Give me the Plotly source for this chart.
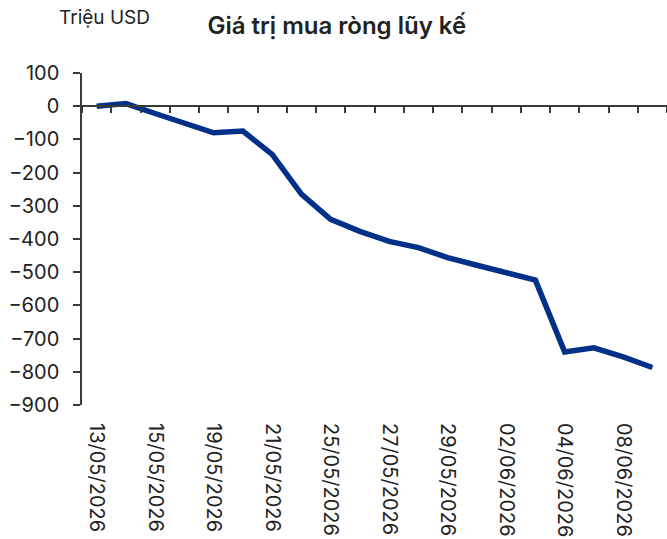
import plotly.graph_objects as go

dates = ["13/05/2026", "14/05/2026", "15/05/2026", "18/05/2026", "19/05/2026",
         "20/05/2026", "21/05/2026", "22/05/2026", "25/05/2026", "26/05/2026",
         "27/05/2026", "28/05/2026", "29/05/2026", "01/06/2026", "02/06/2026",
         "03/06/2026", "04/06/2026", "05/06/2026", "08/06/2026", "09/06/2026"]
values = [0, 8, -22, -49, -80, -75, -145, -265, -341, -377,
          -407, -426, -456, -479, -500, -524, -740, -728, -755, -787]
tick_dates = dates[::2]
y_ticks = list(range(-900, 101, 100))

title_text = "Giá trị mua ròng lũy kế"
unit_text = "Triệu USD"

FONT = "Inter, Roboto, Arial, sans-serif"
TXT = "#222222"
AX = "#3a3a3a"

fig = go.Figure()
fig.add_trace(go.Scatter(
    x=dates, y=values, mode="lines",
    line=dict(color="#003087", width=5.5),
    hoverinfo="x+y", showlegend=False,
))
# helper trace so the zero-line axis (x2) is drawn
fig.add_trace(go.Scatter(
    x=dates, y=values, mode="lines", xaxis="x2",
    line=dict(width=0), opacity=0, hoverinfo="skip", showlegend=False,
))

fig.update_layout(
    width=667, height=539,
    margin=dict(l=82, r=0, t=73, b=134, autoexpand=False),
    paper_bgcolor="white", plot_bgcolor="white",
    font=dict(family=FONT, size=20, color=TXT),
    title=dict(text=title_text, xref="container", x=0.505,
               xanchor="center", yref="container", y=0.953, yanchor="middle",
               font=dict(family=FONT, size=24, color=TXT, weight=600)),
    xaxis=dict(
        type="category", range=[-0.5, len(dates) - 0.5],
        showline=False, showgrid=False, zeroline=False,
        ticks="", tickmode="array", tickvals=tick_dates, ticktext=tick_dates,
        tickangle=90, ticklabelstandoff=17,
        tickfont=dict(family=FONT, size=20, color=TXT),
    ),
    xaxis2=dict(
        type="category", matches="x", overlaying="x", anchor="free",
        position=0.9, side="bottom",
        showline=True, linecolor=AX, linewidth=1.5,
        ticks="outside", ticklen=6, tickwidth=1.5, tickcolor=AX,
        tickson="boundaries", showticklabels=False,
        showgrid=False, zeroline=False,
    ),
    yaxis=dict(
        range=[-900, 100], tickmode="array", tickvals=y_ticks,
        showline=True, linecolor=AX, linewidth=1.5,
        ticks="outside", ticklen=7, tickwidth=1.5, tickcolor=AX,
        showgrid=False, zeroline=False, ticklabelstandoff=10,
        tickfont=dict(family=FONT, size=20, color=TXT),
    ),
    annotations=[dict(
        text=unit_text, xref="paper", yref="paper",
        x=-0.043, y=1.166, xanchor="left", yanchor="middle",
        showarrow=False, font=dict(family=FONT, size=19, color=TXT),
    )],
)

fig.write_html(
    "out.html",
    config={"displayModeBar": False},
    post_script="document.body.style.margin='0';document.body.style.overflow='hidden';",
)
